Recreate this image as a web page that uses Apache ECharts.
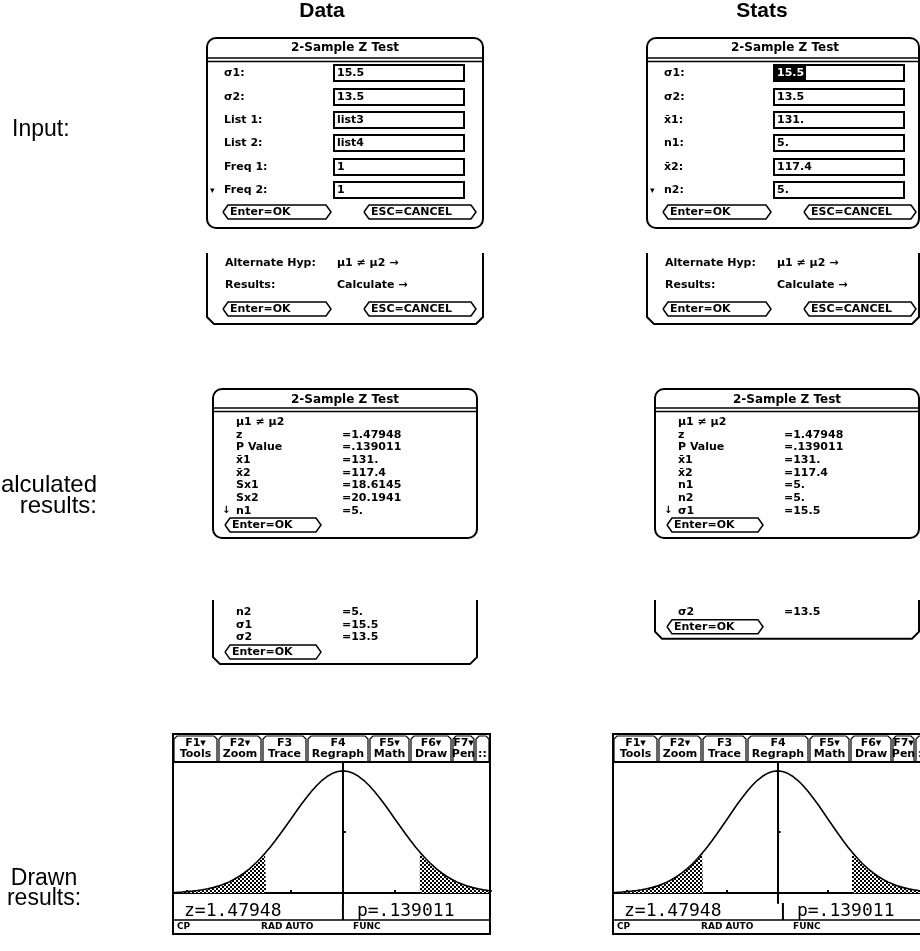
<!DOCTYPE html>
<html><head><meta charset="utf-8">
<script src="https://cdn.jsdelivr.net/npm/echarts@6/dist/echarts.min.js"></script>
<style>html,body{margin:0;padding:0;background:#fff}#c{width:920px;height:951px}</style>
</head><body><div id="c"></div>
<script>
// ---------- data ----------
const columnTitles = ['Data', 'Stats'];
const rowLabels = ['Input:', 'Calculated\nresults:', 'Drawn\nresults:'];
const dialogTitle = '2-Sample Z Test';
const dataInputLabels = ['σ1:', 'σ2:', 'List 1:', 'List 2:', 'Freq 1:', 'Freq 2:'];
const dataInputValues = ['15.5', '13.5', 'list3', 'list4', '1', '1'];
const statsInputLabels = ['σ1:', 'σ2:', 'x̄1:', 'n1:', 'x̄2:', 'n2:'];
const statsInputValues = ['15.5', '13.5', '131.', '5.', '117.4', '5.'];
const optionLabels = ['Alternate Hyp:', 'Results:'];
const optionValues = ['μ1 ≠ μ2 →', 'Calculate →'];
const buttonLabels = ['Enter=OK', 'ESC=CANCEL'];
const dataResultLabels = ['μ1 ≠ μ2', 'z', 'P Value', 'x̄1', 'x̄2', 'Sx1', 'Sx2', 'n1', 'n2', 'σ1', 'σ2'];
const dataResultValues = ['', '=1.47948', '=.139011', '=131.', '=117.4', '=18.6145', '=20.1941', '=5.', '=5.', '=15.5', '=13.5'];
const statsResultLabels = ['μ1 ≠ μ2', 'z', 'P Value', 'x̄1', 'x̄2', 'n1', 'n2', 'σ1', 'σ2'];
const statsResultValues = ['', '=1.47948', '=.139011', '=131.', '=117.4', '=5.', '=5.', '=15.5', '=13.5'];
const toolbarTabs = [['F1▾', 'Tools'], ['F2▾', 'Zoom'], ['F3', 'Trace'], ['F4', 'Regraph'], ['F5▾', 'Math'], ['F6▾', 'Draw'], ['F7▾', 'Pen'], ['', '::']];
const statusItems = ['CP', 'RAD AUTO', 'FUNC'];
const zStat = 1.47948;
const pValue = '.139011';
const tailEdgeDensity = 0.1334;
// standard normal curve (z, density)
const curveX = [-3.3,-3.2,-3.1,-3.0,-2.9,-2.8,-2.7,-2.6,-2.5,-2.4,-2.3,-2.2,-2.1,-2.0,-1.9,-1.8,-1.7,-1.6,-1.5,-1.4,-1.3,-1.2,-1.1,-1.0,-0.9,-0.8,-0.7,-0.6,-0.5,-0.4,-0.3,-0.2,-0.1,0.0,0.1,0.2,0.3,0.4,0.5,0.6,0.7,0.8,0.9,1.0,1.1,1.2,1.3,1.4,1.5,1.6,1.7,1.8,1.9,2.0,2.1,2.2,2.3,2.4,2.5,2.6,2.7,2.8,2.9,3.0];
const curveY = [0.0017,0.0024,0.0033,0.0044,0.0060,0.0079,0.0104,0.0136,0.0175,0.0224,0.0283,0.0355,0.0440,0.0540,0.0656,0.0790,0.0940,0.1109,0.1295,0.1497,0.1714,0.1942,0.2179,0.2420,0.2661,0.2897,0.3123,0.3332,0.3521,0.3683,0.3814,0.3910,0.3970,0.3989,0.3970,0.3910,0.3814,0.3683,0.3521,0.3332,0.3123,0.2897,0.2661,0.2420,0.2179,0.1942,0.1714,0.1497,0.1295,0.1109,0.0940,0.0790,0.0656,0.0540,0.0440,0.0355,0.0283,0.0224,0.0175,0.0136,0.0104,0.0079,0.0060,0.0044];
const xTicks = [-3, -2, -1, 1, 2];
const yTicks = [0.2];

// ---------- layout helpers ----------
const els = [];
const TI = '"DejaVu Sans", sans-serif';
const SANS = '"Liberation Sans", Arial, sans-serif';
function txt(x, y, s, o = {}) {
  const al = o.align || 'left';
  els.push({ type: 'text', x, y, z: o.z || 20, silent: true,
    style: { text: s, font: `${o.weight || 'bold'} ${o.size || 11}px ${o.family || TI}`,
      fill: o.fill || '#000', align: al, textAlign: al, verticalAlign: 'middle', textVerticalAlign: 'middle', lineHeight: o.lh || 17 } });
}
function rect(x, y, w, h, o = {}) {
  els.push({ type: 'rect', z: o.z || 5, silent: true, shape: { x, y, width: w, height: h, r: o.r || 0 },
    style: { fill: o.fill || null, stroke: o.stroke === undefined ? '#000' : o.stroke, lineWidth: o.lw === undefined ? 2 : o.lw } });
}
function line(x1, y1, x2, y2, lw = 2, z = 6) {
  els.push({ type: 'line', z, silent: true, shape: { x1, y1, x2, y2 }, style: { stroke: '#000', lineWidth: lw } });
}
function poly(points, lw = 2, z = 6) {
  els.push({ type: 'polyline', z, silent: true, shape: { points }, style: { stroke: '#000', fill: null, lineWidth: lw } });
}
function button(x, cy, w, label) {
  const h = 14, y = cy - h / 2;
  poly([[x, cy], [x + 5, y], [x + w - 5, y], [x + w, cy], [x + w - 5, y + h], [x + 5, y + h], [x, cy]], 1.5);
  txt(x + 7, cy + 0.5, label);
}

// ---------- headers and row labels ----------
txt(322, 11, columnTitles[0], { family: SANS, size: 21, align: 'center' });
txt(762, 11, columnTitles[1], { family: SANS, size: 21, align: 'center' });
txt(12, 130, rowLabels[0], { family: SANS, size: 23, weight: 'normal' });
txt(97, 496, rowLabels[1], { family: SANS, size: 24, weight: 'normal', align: 'right', lh: 21 });
txt(44, 889, rowLabels[2], { family: SANS, size: 23, weight: 'normal', align: 'center', lh: 20 });

// ---------- input dialogs ----------
const inRows = [73, 97, 120, 143, 167, 190];
function inputDialog(x0, DW, labels, values, highlight) {
  rect(x0, 38, DW, 190, { r: 9 });
  txt(x0 + 138, 48, dialogTitle, { align: 'center', size: 12 });
  line(x0, 58, x0 + DW, 58, 1.5); line(x0, 61.5, x0 + DW, 61.5, 1.5);
  labels.forEach((l, i) => {
    txt(x0 + 17, inRows[i], l);
    rect(x0 + 127, inRows[i] - 8, 130, 16, { lw: 2 });
    if (highlight && i === 0) {
      rect(x0 + 128, inRows[i] - 7, 31, 14, { fill: '#000', stroke: null, lw: 0, z: 7 });
      txt(x0 + 130, inRows[i], values[i], { fill: '#fff' });
    } else {
      txt(x0 + 130, inRows[i], values[i]);
    }
  });
  txt(x0 + 3, inRows[5] + 1, '▾', { size: 9 });
  button(x0 + 16, 212, 108, buttonLabels[0]);
  button(x0 + 157, 212, 112, buttonLabels[1]);
  // continuation screen
  poly([[x0, 253], [x0, 317], [x0 + 7, 324], [x0 + DW - 7, 324], [x0 + DW, 317], [x0 + DW, 253]], 2);
  txt(x0 + 18, 263, optionLabels[0]); txt(x0 + 130, 263, optionValues[0]);
  txt(x0 + 18, 285, optionLabels[1]); txt(x0 + 130, 285, optionValues[1]);
  button(x0 + 16, 309, 108, buttonLabels[0]);
  button(x0 + 157, 309, 112, buttonLabels[1]);
}
inputDialog(207, 276, dataInputLabels, dataInputValues, false);
inputDialog(647, 272, statsInputLabels, statsInputValues, true);

// ---------- result dialogs ----------
const RW = 264, firstScreenRows = 8, rowPitch = 12.7;
function resultDialog(x0, labels, values) {
  rect(x0, 389, RW, 149, { r: 9 });
  txt(x0 + RW / 2, 400, dialogTitle, { align: 'center', size: 12 });
  line(x0, 408, x0 + RW, 408, 1.5); line(x0, 411.5, x0 + RW, 411.5, 1.5);
  for (let i = 0; i < firstScreenRows; i++) {
    const y = 422 + i * rowPitch;
    txt(x0 + 23, y, labels[i]); if (values[i]) txt(x0 + 129, y, values[i]);
  }
  txt(x0 + 9, 422 + 7 * rowPitch, '↓', { size: 10 });
  button(x0 + 12, 525, 96, buttonLabels[0]);
  const rest = labels.length - firstScreenRows;
  const bottom = 612 + rest * rowPitch + 14;
  poly([[x0, 600], [x0, bottom - 7], [x0 + 7, bottom], [x0 + RW - 7, bottom], [x0 + RW, bottom - 7], [x0 + RW, 600]], 2);
  for (let i = firstScreenRows; i < labels.length; i++) {
    const y = 612 + (i - firstScreenRows) * rowPitch;
    txt(x0 + 23, y, labels[i]); txt(x0 + 129, y, values[i]);
  }
  button(x0 + 12, 612 + rest * rowPitch + 2, 96, buttonLabels[0]);
}
resultDialog(213, dataResultLabels, dataResultValues);
resultDialog(655, statsResultLabels, statsResultValues);

// ---------- graph screens (frame, toolbar, texts) ----------
const GW = 317, GT = 734, GH = 200, plotTop = 762, plotH = 141;
const tabW = [45, 44, 45, 62, 41, 42, 23, 15];
const graphLeft = [173, 613];
const xMin = -3.27, xMax = 2.83, yMin = -0.0327, yMax = 0.428;
graphLeft.forEach(x0 => {
  rect(x0, GT, GW, GH, { lw: 2 });
  line(x0, plotTop, x0 + GW, plotTop, 2);
  let tx = x0;
  toolbarTabs.forEach((t, i) => {
    const w = tabW[i];
    poly([[tx + 1, plotTop], [tx + 1, GT + 5], [tx + 4, GT + 2], [tx + w - 4, GT + 2], [tx + w - 1, GT + 5], [tx + w - 1, plotTop]], 1.2);
    txt(tx + w / 2, GT + 9, t[0], { align: 'center', size: 11 });
    txt(tx + w / 2, GT + 20, t[1], { align: 'center', size: 11 });
    tx += w;
  });
  const ax = x0 + (0 - xMin) / (xMax - xMin) * GW;
  line(ax, plotTop + plotH, ax, GT + GH - 14, 2);
  txt(x0 + 11, 911, 'z=' + zStat, { family: '"DejaVu Sans Mono", monospace', weight: 'normal', size: 18 });
  txt(ax + 14, 911, 'p=' + pValue, { family: '"DejaVu Sans Mono", monospace', weight: 'normal', size: 18 });
  line(x0, GT + GH - 14, x0 + GW, GT + GH - 14, 1.5);
  txt(x0 + 4, GT + GH - 7, statusItems[0], { size: 9 });
  txt(x0 + 88, GT + GH - 7, statusItems[1], { size: 9 });
  txt(x0 + 180, GT + GH - 7, statusItems[2], { size: 9 });
});

// ---------- shading pattern ----------
const pat = document.createElement('canvas');
pat.width = 4; pat.height = 4;
const pc = pat.getContext('2d');
pc.fillStyle = '#fff'; pc.fillRect(0, 0, 4, 4);
pc.fillStyle = '#000'; pc.fillRect(0, 0, 2, 2); pc.fillRect(2, 2, 2, 2);

const curve = curveX.map((x, i) => [x, curveY[i]]);
const leftTail = curve.filter(p => p[0] <= -zStat).concat([[-zStat, tailEdgeDensity]]);
const rightTail = [[zStat, tailEdgeDensity]].concat(curve.filter(p => p[0] >= zStat));

const grids = graphLeft.map(x0 => ({ left: x0, top: plotTop, width: GW, height: plotH }));
const xAxes = graphLeft.map((_, i) => ({ type: 'value', gridIndex: i, min: xMin, max: xMax,
  axisLine: { onZero: true, lineStyle: { color: '#000', width: 2 } },
  axisTick: { show: true, customValues: xTicks, length: 3, inside: true, lineStyle: { color: '#000', width: 2 } },
  axisLabel: { show: false }, splitLine: { show: false } }));
const yAxes = graphLeft.map((_, i) => ({ type: 'value', gridIndex: i, min: yMin, max: yMax,
  axisLine: { onZero: true, lineStyle: { color: '#000', width: 2 } },
  axisTick: { show: true, customValues: yTicks, length: 3, inside: true, lineStyle: { color: '#000', width: 2 } },
  axisLabel: { show: false }, splitLine: { show: false } }));
const series = [];
graphLeft.forEach((_, i) => {
  [leftTail, rightTail].forEach(t => series.push({ type: 'line', xAxisIndex: i, yAxisIndex: i, data: t, symbol: 'none',
    lineStyle: { width: 0 }, areaStyle: { color: { image: pat, repeat: 'repeat' }, opacity: 1 }, silent: true, z: 2 }));
  series.push({ type: 'line', xAxisIndex: i, yAxisIndex: i, data: curve, symbol: 'none',
    lineStyle: { color: '#000', width: 1.6 }, silent: true, z: 3 });
});

const chart = echarts.init(document.getElementById('c'), null, { renderer: 'canvas' });
chart.setOption({ animation: false, backgroundColor: '#fff', grid: grids, xAxis: xAxes, yAxis: yAxes, series, graphic: { elements: els } });
</script></body></html>
